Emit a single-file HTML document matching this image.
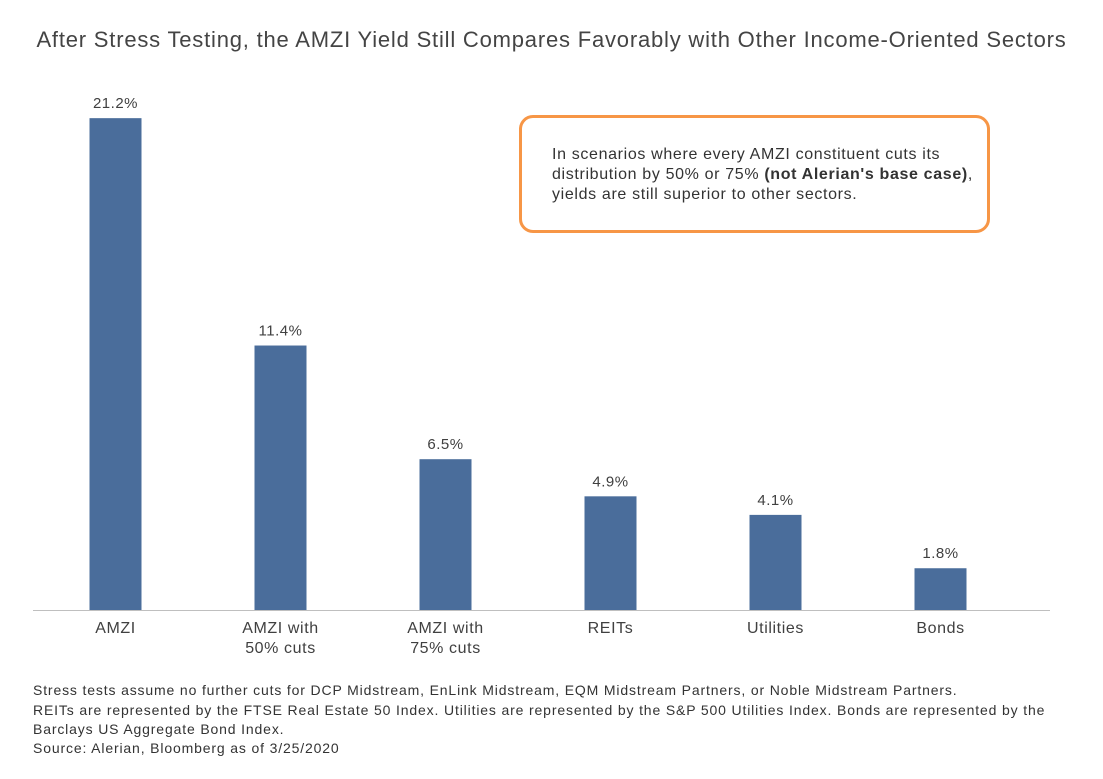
<!DOCTYPE html>
<html><head><meta charset="utf-8">
<style>
body{margin:0;background:#fff;font-family:"Liberation Sans",sans-serif;color:#404040;}
#wrap{position:relative;width:1103px;height:779px;overflow:hidden;}
#title{position:absolute;left:0;top:27px;width:1103px;text-align:center;font-size:22px;color:#444;letter-spacing:0.8px;white-space:nowrap;}
#callout{position:absolute;left:519px;top:115px;width:465px;height:112px;border:3px solid #f79646;border-radius:14px;box-sizing:content-box;}
#callout p{margin:0;position:absolute;left:30px;top:27px;font-size:16px;line-height:20px;color:#333;width:440px;letter-spacing:0.65px;}
.foot{position:absolute;left:33px;font-size:14px;color:#333;letter-spacing:0.85px;}
</style></head><body>
<div id="wrap">
<div id="title">After Stress Testing, the AMZI Yield Still Compares Favorably with Other Income-Oriented Sectors</div>
<svg id="plot" width="1103" height="779" style="position:absolute;left:0;top:0"></svg>
<div id="callout"><p>In scenarios where every AMZI constituent cuts its distribution by 50% or 75% <b>(not Alerian's base case)</b>, yields are still superior to other sectors.</p></div>
<div class="foot" style="top:682px;white-space:nowrap">Stress tests assume no further cuts for DCP Midstream, EnLink Midstream, EQM Midstream Partners, or Noble Midstream Partners.</div>
<div class="foot" style="top:701px;width:1050px;line-height:19px;white-space:nowrap">REITs are represented by the FTSE Real Estate 50 Index. Utilities are represented by the S&amp;P 500 Utilities Index. Bonds are represented by the<br>Barclays US Aggregate Bond Index.</div>
<div class="foot" style="top:740px">Source: Alerian, Bloomberg as of 3/25/2020</div>
</div>
<script>
const categories=[["AMZI"],["AMZI with","50% cuts"],["AMZI with","75% cuts"],["REITs"],["Utilities"],["Bonds"]];
const values=[21.2,11.4,6.5,4.9,4.1,1.8];
const valueLabels=["21.2%","11.4%","6.5%","4.9%","4.1%","1.8%"];
const NS="http://www.w3.org/2000/svg";
const svg=document.getElementById('plot');
const x0=33,band=165,baseY=610,pxPer=23.2,bw=52;
function xScale(i){return x0+band*i+band/2;}
function yScale(v){return baseY-v*pxPer;}
function mk(t,a){const e=document.createElementNS(NS,t);for(const k in a)e.setAttribute(k,a[k]);svg.appendChild(e);return e;}
values.forEach((v,i)=>{
  const cx=xScale(i);
  const r=mk('rect',{x:cx-bw/2,y:yScale(v),width:bw,height:baseY-yScale(v),fill:'#4a6d9b'});
  
  
  const t=mk('text',{x:cx,y:yScale(v)-10,'text-anchor':'middle','font-size':'15','fill':'#404040','font-family':'Liberation Sans, sans-serif','letter-spacing':'0.5'});
  t.textContent=valueLabels[i];
  
  
  categories[i].forEach((line,j)=>{
    const c=mk('text',{x:cx,y:633+j*20,'text-anchor':'middle','font-size':'16','fill':'#404040','font-family':'Liberation Sans, sans-serif','letter-spacing':'0.6'});
    c.textContent=line;
    
    
  });
});
const ax=mk('line',{x1:33,y1:baseY+0.5,x2:1050,y2:baseY+0.5,stroke:'#bfbfbf','stroke-width':1});


</script>
</body></html>
